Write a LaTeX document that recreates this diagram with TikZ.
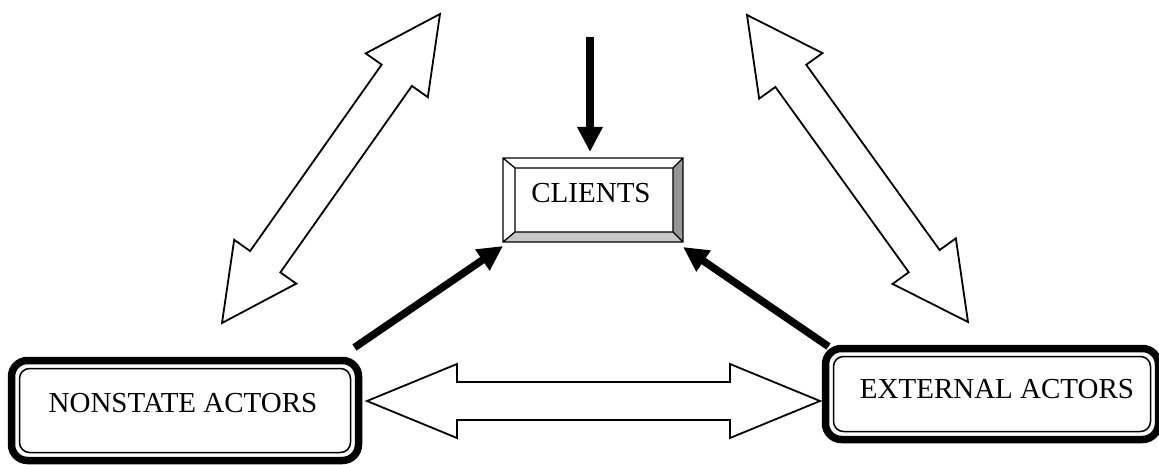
\documentclass[tikz,border=0pt]{standalone}
\usepackage{fontspec}
\setmainfont{Liberation Serif}
\usetikzlibrary{arrows.meta,calc}
\definecolor{bevellight}{RGB}{200,200,200}
\definecolor{beveldark}{RGB}{150,150,150}
% hollow double-headed block arrow between two tips
\newcommand{\blockarrow}[5]{%
  \path ($(#1)!#5!(#2)$) coordinate (ha) ($(#2)!#5!(#1)$) coordinate (hb);
  \draw[hollow] (#1) -- ($(ha)!#4!90:(#2)$) -- ($(ha)!#3!90:(#2)$)
    -- ($(hb)!#3!-90:(#1)$) -- ($(hb)!#4!-90:(#1)$) -- (#2)
    -- ($(hb)!#4!90:(#1)$) -- ($(hb)!#3!90:(#1)$)
    -- ($(ha)!#3!-90:(#2)$) -- ($(ha)!#4!-90:(#2)$) -- cycle;}

\begin{document}
\begin{tikzpicture}[x=1pt,y=-1pt,
  actor/.style={draw,line width=7.5pt,rounded corners=16pt,fill=white,
    outer sep=0pt,inner sep=0pt},
  innerline/.style={draw,line width=1.5pt,rounded corners=10pt},
  bevel/.style={draw,line width=1.3pt,line join=miter},
  lbl/.style={font=\fontsize{29}{34}\selectfont,anchor=base,inner sep=0pt},
  hollow/.style={draw,line width=1.8pt,fill=white,line join=miter},
  push/.style={line width=7.5pt,-{Triangle[length=25pt,width=24pt]}}]

  \useasboundingbox (0,0) rectangle (1159,465);

  % the three boxes
  \node[actor,minimum width=347pt,minimum height=100pt] (nsa) at (185,410.5) {};
  \node[actor,minimum width=333pt,minimum height=91pt] (exa) at (992,394) {};
  \node[minimum width=180pt,minimum height=84pt,outer sep=0pt,inner sep=0pt] (cl) at (593,200) {};
  \node[minimum width=158pt,minimum height=64pt,outer sep=0pt,inner sep=0pt] (cli) at (594,200) {};

  \foreach \b in {nsa,exa}
    \draw[innerline] ([shift={(8,8)}]\b.north west) rectangle ([shift={(-8,-8)}]\b.south east);

  % bevel of the clients box
  \fill[bevellight] (cl.south west) -- (cl.south east) -- (cli.south east) -- (cli.south west) -- cycle;
  \fill[beveldark] (cl.south east) -- (cl.north east) -- (cli.north east) -- (cli.south east) -- cycle;
  \draw[bevel] (cl.north west) rectangle (cl.south east)
    (cli.north west) rectangle (cli.south east)
    (cl.north west) -- (cli.north west) (cl.north east) -- (cli.north east)
    (cl.south west) -- (cli.south west) (cl.south east) -- (cli.south east);

  \node[lbl] (cl-txt) at (591,203) {CLIENTS};
  \node[lbl] (nsa-txt) at (183,412) {NONSTATE ACTORS};
  \node[lbl] (exa-txt) at (997,398) {EXTERNAL ACTORS};

  % black arrows into clients
  \coordinate (src) at (590,37);
  \draw[push] (src) -- ([shift={(-3,-6)}]cl.north);
  \draw[push] ([shift={(-4,-13)}]nsa.north east) -- ([shift={(0,4)}]cl.south west);
  \draw[push] ([shift={(3,-2)}]exa.north west) -- ([shift={(0,5)}]cl.south east);

  % hollow two-way arrows
  \coordinate (l1) at (222,323);
  \coordinate (l2) at (440,14);
  \coordinate (r1) at (747,15);
  \coordinate (r2) at (968,322);
  \coordinate (h1) at (367,401);
  \coordinate (h2) at (820,401);
  \blockarrow{l1}{l2}{18.5pt}{38pt}{75pt}
  \blockarrow{r1}{r2}{19pt}{39pt}{75pt}
  \blockarrow{h1}{h2}{19pt}{37pt}{90pt}

\end{tikzpicture}
\end{document}
